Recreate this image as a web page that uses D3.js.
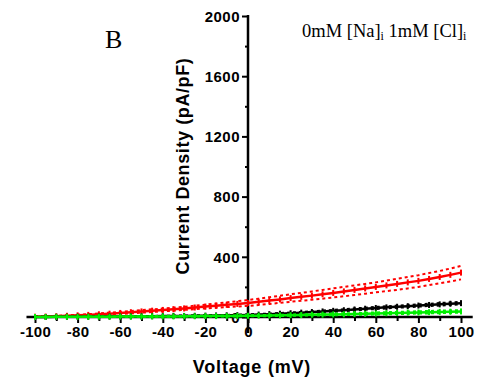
<!DOCTYPE html>
<html>
<head>
<meta charset="utf-8">
<script src="https://cdn.jsdelivr.net/npm/d3@7"></script>
<style>
  html, body { margin: 0; padding: 0; background: #fff; }
  svg { display: block; }
  .tick text { font-family: Arial, "Liberation Sans", sans-serif; font-weight: bold; }
</style>
</head>
<body>
<svg id="chart" width="483" height="381"></svg>
<script>
// Membrane voltage steps (mV)
const voltages = d3.range(-100, 101, 5);

// Mean current density (pA/pF) and SEM envelope for each condition
const redMean  = [2,3,5,8,11,14,18,22,27,32,37,42,47,52,57,63,69,75,81,87,93,101,109,117,126,134,142,151,160,170,180,190,200,210,220,230,240,253,266,280,295];
const redUpper = [4,6,8,12,15,19,24,29,34,40,45,51,56,62,68,75,82,89,97,105,113,122,132,141,151,160,170,180,190,200,210,220,230,242,254,266,278,292,306,322,340];
const redLower = [0,1,3,5,7,10,13,16,20,24,29,33,38,42,47,52,57,62,66,70,74,80,87,94,101,108,115,122,130,138,146,155,164,172,180,190,200,212,224,236,250];

const blackMean  = [0,0,1,1,2,2,3,3,4,4,5,5,6,7,7,8,9,10,11,12,14,16,19,22,25,29,33,37,41,45,50,55,60,64,68,72,76,80,84,88,92];
const blackUpper = [1,1,2,2,3,3,4,5,5,6,7,7,8,9,10,11,12,13,14,16,18,20,23,27,30,34,38,43,47,52,57,62,67,71,75,80,84,88,93,97,101];
const blackLower = [0,0,0,0,1,1,2,2,3,3,3,4,4,5,5,6,6,7,8,9,10,12,15,18,20,24,28,32,35,39,43,48,53,57,61,65,69,73,76,80,84];

const greenMean  = [0,0,1,1,1,2,2,2,3,3,3,4,4,4,5,5,6,6,7,7,8,9,10,11,12,13,15,16,17,18,20,21,23,25,27,29,30,32,34,35,37];
const greenUpper = [1,1,2,2,2,3,3,4,4,5,5,6,6,7,7,8,9,9,10,11,12,13,14,15,17,18,20,21,23,24,26,28,30,32,34,36,38,40,42,44,46];
const greenLower = [0,0,0,0,0,1,1,1,1,1,2,2,2,2,3,3,3,3,4,4,5,5,6,7,8,9,10,11,12,13,14,15,16,18,20,21,23,24,26,27,29];

const xTicks = [-100,-80,-60,-40,-20,0,20,40,60,80,100];
const yTicks = [0,400,800,1200,1600,2000];

const series = [
  { color: "#ff0000", mean: redMean,   upper: redUpper,   lower: redLower },
  { color: "#000000", mean: blackMean, upper: blackUpper, lower: blackLower },
  { color: "#00ee00", mean: greenMean, upper: greenUpper, lower: greenLower }
];

const svg = d3.select("#chart");

const x = d3.scaleLinear().domain([-100, 100]).range([35, 461]);
const y = d3.scaleLinear().domain([0, 2000]).range([317, 16]);

// Y axis: left-pointing ticks, minor ticks between the labelled ones
const yAxisG = svg.append("g").attr("transform", `translate(${x(0)},0)`);
yAxisG.call(d3.axisLeft(y).tickValues(d3.range(0, 2001, 200)).tickSize(5).tickPadding(3)
  .tickFormat(d => yTicks.includes(d) ? d : ""));
yAxisG.select(".domain").remove();
yAxisG.selectAll(".tick line").attr("stroke", "#000").attr("stroke-width", 2)
  .attr("x2", d => yTicks.includes(d) ? -6 : -3);
yAxisG.selectAll(".tick text").attr("font-size", 15).attr("letter-spacing", "0.5px").attr("dy", "0.35em");
yAxisG.append("line").attr("x1", 0).attr("x2", 0).attr("y1", y(2000) - 1).attr("y2", 333)
  .attr("stroke", "#000").attr("stroke-width", 2.5);

// X axis: ticks below, minor ticks every 10 mV
const xAxisG = svg.append("g").attr("transform", `translate(0,${y(0)})`);
xAxisG.call(d3.axisBottom(x).tickValues(d3.range(-100, 101, 10)).tickSize(5).tickPadding(4)
  .tickFormat(d => xTicks.includes(d) ? d : ""));
xAxisG.select(".domain").remove();
xAxisG.selectAll(".tick line").attr("stroke", "#000").attr("stroke-width", 2)
  .attr("y2", d => xTicks.includes(d) ? 6 : 4);
xAxisG.selectAll(".tick text").attr("font-size", 15).attr("letter-spacing", "0.3px");
xAxisG.append("line").attr("x1", x(-104)).attr("x2", x(105.5)).attr("y1", 0).attr("y2", 0)
  .attr("stroke", "#000").attr("stroke-width", 2.5);

// Data: mean traces with markers, SEM envelopes as dotted lines
const line = d3.line().x((d, i) => x(voltages[i])).y(d => y(d));
const plot = svg.append("g");
series.forEach(s => {
  [s.upper, s.lower].forEach(env => {
    plot.append("path").datum(env).attr("d", line)
      .attr("fill", "none").attr("stroke", s.color).attr("stroke-width", 2)
      .attr("stroke-dasharray", "3,3");
  });
  plot.append("path").datum(s.mean).attr("d", line)
    .attr("fill", "none").attr("stroke", s.color).attr("stroke-width", 2.5);
  plot.selectAll(null).data(s.mean).enter().append("rect")
    .attr("x", (d, i) => x(voltages[i]) - 1)
    .attr("y", d => y(d) - 3)
    .attr("width", 2).attr("height", 6)
    .attr("fill", s.color);
});

// Axis titles
svg.append("text")
  .attr("transform", `translate(189,166) rotate(-90)`)
  .attr("text-anchor", "middle")
  .attr("font-family", "Arial, 'Liberation Sans', sans-serif")
  .attr("font-weight", "bold").attr("font-size", 18)
  .attr("letter-spacing", "0.6px")
  .text("Current Density (pA/pF)");

svg.append("text")
  .attr("x", 252).attr("y", 373)
  .attr("text-anchor", "middle")
  .attr("font-family", "Arial, 'Liberation Sans', sans-serif")
  .attr("font-weight", "bold").attr("font-size", 18)
  .attr("letter-spacing", "0.8px")
  .text("Voltage (mV)");

// Panel letter and condition label
svg.append("text")
  .attr("x", 105).attr("y", 48)
  .attr("font-family", "'Liberation Serif', 'Times New Roman', serif")
  .attr("font-size", 26)
  .text("B");

const cond = svg.append("text")
  .attr("x", 302).attr("y", 37)
  .attr("font-family", "'Liberation Serif', 'Times New Roman', serif")
  .attr("font-size", 18.5);
cond.append("tspan").text("0mM [Na]");
cond.append("tspan").attr("font-size", 12).attr("dy", 3).text("i");
cond.append("tspan").attr("dy", -3).text(" 1mM [Cl]");
cond.append("tspan").attr("font-size", 12).attr("dy", 3).text("i");
</script>
</body>
</html>
